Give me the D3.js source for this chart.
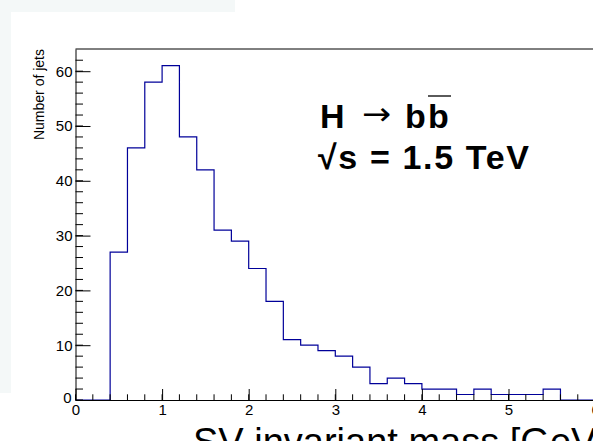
<!DOCTYPE html>
<html>
<head>
<meta charset="utf-8">
<script src="https://cdn.jsdelivr.net/npm/d3@7"></script>
<style>
  body { margin: 0; background: #fff; }
  svg { display: block; font-family: "Liberation Sans", Arial, sans-serif; }
  .tick text { font-size: 15px; font-family: "Liberation Sans", Arial, sans-serif; fill: #000; }
</style>
</head>
<body>
<div id="chart"></div>
<script>
// SV invariant mass, 0.2 GeV bins from 0 to 6
var binLow = [0.0,0.2,0.4,0.6,0.8,1.0,1.2,1.4,1.6,1.8,2.0,2.2,2.4,2.6,2.8,3.0,3.2,3.4,3.6,3.8,4.0,4.2,4.4,4.6,4.8,5.0,5.2,5.4,5.6,5.8];
var counts = [0,0,27,46,58,61,48,42,31,29,24,18,11,10,9,8,6,3,4,3,2,2,1,2,1,1,1,2,0,0];
var binWidth = 0.2;
var xTicks = [0,1,2,3,4,5,6];
var yTicks = [0,10,20,30,40,50,60];

var width = 593, height = 441;
var svg = d3.select("#chart").append("svg")
    .attr("width", width)
    .attr("height", height);

// faint canvas edge left over from the cropped ROOT window
svg.append("rect").attr("x",0).attr("y",0).attr("width",11).attr("height",393).attr("fill","#f4f8f8");
svg.append("rect").attr("x",11).attr("y",0).attr("width",224).attr("height",12).attr("fill","#f4f8f8");

var x = d3.scaleLinear().domain([0, 6]).range([75.5, 595.1]);
var y = d3.scaleLinear().domain([0, 64.05]).range([400, 49]);

var g = svg.append("g");

// frame (top + right, right is off-screen)
g.append("path")
  .attr("d", "M" + x(0) + "," + y.range()[1] + "H" + x(6) + "V" + y(0))
  .attr("fill","none").attr("stroke","#000").attr("stroke-width",1);

// histogram outline
var pts = [];
binLow.forEach(function(lo, i) {
  pts.push([lo, counts[i]]);
  pts.push([lo + binWidth, counts[i]]);
});
var line = d3.line()
  .x(function(d){ return x(d[0]); })
  .y(function(d){ return y(d[1]); });
g.append("path")
  .datum([[0,0]].concat(pts).concat([[6,0]]))
  .attr("d", line)
  .attr("fill","none")
  .attr("stroke","#000099")
  .attr("stroke-width",1.2);

// x axis, ticks point into the frame
var xAxis = d3.axisBottom(x).tickValues(xTicks).tickFormat(d3.format("d")).tickSizeInner(-11).tickSizeOuter(0).tickPadding(4);
var xMinor = d3.range(0, 6.001, 0.2);
var gx = g.append("g").attr("transform","translate(0," + y(0) + ")").call(xAxis);
gx.selectAll("line").attr("stroke","#000");
gx.select(".domain").attr("stroke","#000");
gx.selectAll(".minor").data(xMinor).enter().append("line")
  .attr("class","minor")
  .attr("x1", function(d){ return x(d); }).attr("x2", function(d){ return x(d); })
  .attr("y1", 0).attr("y2", -5.7).attr("stroke","#000");

// y axis
var yAxis = d3.axisLeft(y).tickValues(yTicks).tickFormat(d3.format("d")).tickSizeInner(-15).tickSizeOuter(0).tickPadding(3);
var yMinor = d3.range(0, 64, 2);
var gy = g.append("g").attr("transform","translate(" + x(0) + ",0)").call(yAxis);
gy.selectAll("line").attr("stroke","#000");
gy.select(".domain").attr("stroke","#000");
gy.selectAll(".tick text").filter(function(d){ return d === 0; }).attr("dy","0.15em").attr("x",-4);
gy.selectAll(".minor").data(yMinor).enter().append("line")
  .attr("class","minor")
  .attr("x1", 0).attr("x2", 7.5)
  .attr("y1", function(d){ return y(d); }).attr("y2", function(d){ return y(d); })
  .attr("stroke","#000");

// axis titles
svg.append("text")
  .attr("transform","translate(44," + y.range()[1] + ") rotate(-90)")
  .attr("text-anchor","end")
  .attr("font-size",14)
  .text("Number of jets");

svg.append("text")
  .attr("x",193).attr("y",455)
  .attr("font-size",38)
  .text("SV invariant mass [GeV]");

// process label
var lab = svg.append("g").attr("font-weight","bold").attr("font-size",34);
lab.append("text").attr("x",320).attr("y",128).text("H");
lab.append("text").attr("transform","translate(362,125) scale(1.2,1.1)")
  .attr("font-weight","normal").attr("font-family","DejaVu Sans").attr("font-size",29)
  .text("\u2192");
lab.append("text").attr("x",405).attr("y",128).text("b");
lab.append("text").attr("x",428).attr("y",128).text("b");
lab.append("line").attr("x1",428).attr("x2",451).attr("y1",96).attr("y2",96)
  .attr("stroke","#000").attr("stroke-width",1.3);
lab.append("text").attr("x",318).attr("y",169).attr("textLength",211).text("\u221As = 1.5 TeV");
</script>
</body>
</html>
